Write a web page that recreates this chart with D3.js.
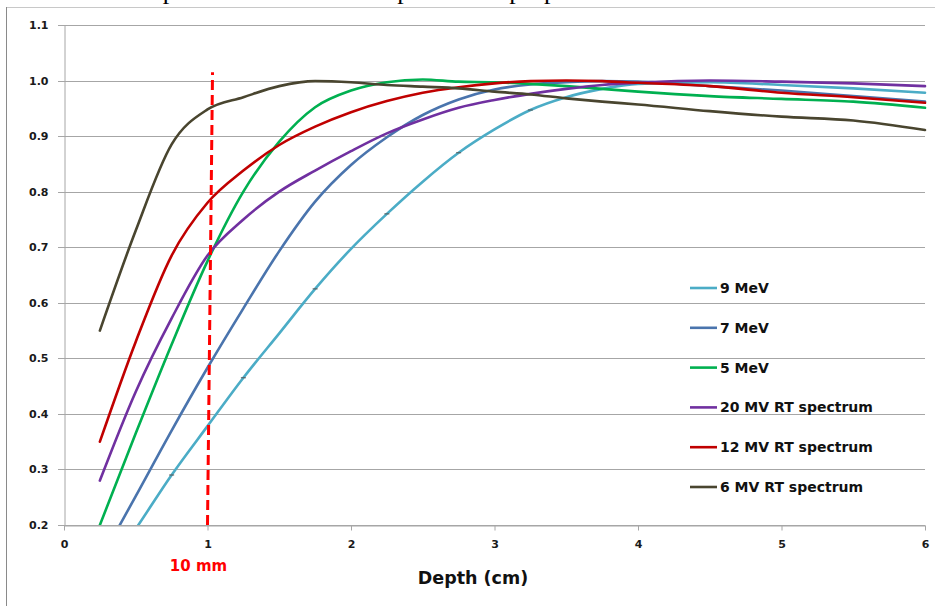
<!DOCTYPE html>
<html>
<head>
<meta charset="utf-8">
<script src="https://cdn.jsdelivr.net/npm/d3@7"></script>
<style>
  body { margin: 0; background: #fff; }
  svg { display: block; }
</style>
</head>
<body>
<div id="chart"></div>
<script>
const depths = [0.25, 0.5, 0.75, 1, 1.25, 1.5, 1.75, 2, 2.25, 2.5, 2.75, 3, 3.25, 3.5, 3.75, 4, 4.5, 5, 5.5, 6];

const mev9   = [0.10, 0.193, 0.29, 0.378, 0.465, 0.545, 0.625, 0.697, 0.76, 0.818, 0.87, 0.912, 0.947, 0.97, 0.985, 0.994, 0.997, 0.992, 0.986, 0.978];
const mev7   = [0.135, 0.252, 0.37, 0.483, 0.59, 0.693, 0.782, 0.848, 0.898, 0.938, 0.966, 0.984, 0.993, 0.997, 0.999, 0.998, 0.99, 0.982, 0.972, 0.962];
const mev5   = [0.2, 0.365, 0.525, 0.675, 0.8, 0.89, 0.952, 0.982, 0.997, 1.002, 0.998, 0.997, 0.994, 0.99, 0.985, 0.98, 0.972, 0.967, 0.962, 0.951];
const mv20   = [0.28, 0.44, 0.572, 0.685, 0.75, 0.8, 0.838, 0.873, 0.905, 0.93, 0.951, 0.965, 0.976, 0.985, 0.992, 0.996, 1.0, 0.998, 0.995, 0.99];
const mv12   = [0.35, 0.53, 0.685, 0.78, 0.838, 0.884, 0.917, 0.943, 0.963, 0.978, 0.988, 0.995, 0.999, 1.0, 0.999, 0.996, 0.99, 0.978, 0.97, 0.96];
const mv6    = [0.55, 0.73, 0.885, 0.948, 0.97, 0.99, 0.999, 0.997, 0.992, 0.989, 0.986, 0.98, 0.975, 0.968, 0.962, 0.957, 0.945, 0.935, 0.928, 0.911];

const seriesNames  = ["9 MeV", "7 MeV", "5 MeV", "20 MV RT spectrum", "12 MV RT spectrum", "6 MV RT spectrum"];
const seriesValues = [mev9, mev7, mev5, mv20, mv12, mv6];
const seriesColors = ["#4bacc6", "#4a74ad", "#00b050", "#7030a0", "#c00000", "#49452f"];

const xTicks = [0, 1, 2, 3, 4, 5, 6];
const yTicks = [0.2, 0.3, 0.4, 0.5, 0.6, 0.7, 0.8, 0.9, 1.0, 1.1];

// the 10 mm marker line (slightly slanted in the original)
const refLineX = [1.0, 1.035];
const refLineY = [0.2, 1.015];
const refLabel = "10 mm";

const width = 935, height = 606;
const margin = {top: 25, right: 10, bottom: 81, left: 64};

const svg = d3.select("#chart").append("svg")
  .attr("width", width)
  .attr("height", height);

// page remnants: cut text line and frame
svg.append("text")
  .attr("x", 71).attr("y", -1)
  .attr("font-family", "Liberation Serif, serif")
  .attr("font-size", 26)
  .attr("fill", "#000")
  .text("ates comparable with radiation protection purposes.");

svg.append("line")
  .attr("x1", 6).attr("x2", width).attr("y1", 7.5).attr("y2", 7.5)
  .attr("stroke", "#c8c8c8");
svg.append("line")
  .attr("x1", 6.5).attr("x2", 6.5).attr("y1", 7).attr("y2", height)
  .attr("stroke", "#8a8a8a");

const x = d3.scaleLinear().domain([0, 6]).range([margin.left, width - margin.right]);
const y = d3.scaleLinear().domain([0.2, 1.1]).range([height - margin.bottom, margin.top]);

// gridlines
svg.append("g").selectAll("line")
  .data(yTicks)
  .join("line")
  .attr("x1", margin.left - 6)
  .attr("x2", x(6))
  .attr("y1", d => Math.round(y(d)) + 0.5)
  .attr("y2", d => Math.round(y(d)) + 0.5)
  .attr("stroke", "#a6a6a6");

const tickFont = "DejaVu Sans, Verdana, sans-serif";

const yAxis = svg.append("g")
  .attr("transform", `translate(${margin.left + 0.5},0)`)
  .call(d3.axisLeft(y).tickValues(yTicks).tickFormat(d3.format(".1f")).tickSize(0).tickPadding(16));
yAxis.select(".domain").attr("stroke", "#a6a6a6");
yAxis.selectAll("text")
  .attr("font-family", tickFont).attr("font-size", 11).attr("font-weight", "bold").attr("fill", "#1a1a1a");

const xAxis = svg.append("g")
  .attr("transform", `translate(0,${Math.round(y(0.2)) + 0.5})`)
  .call(d3.axisBottom(x).tickValues(xTicks).tickFormat(d3.format("d")).tickSize(5).tickSizeOuter(0).tickPadding(10));
xAxis.select(".domain").attr("stroke", "#a6a6a6");
xAxis.selectAll("line").attr("stroke", "#a6a6a6");
xAxis.selectAll("text")
  .attr("font-family", tickFont).attr("font-size", 11).attr("font-weight", "bold").attr("fill", "#1a1a1a");

svg.append("text")
  .attr("x", 473).attr("y", 584)
  .attr("text-anchor", "middle")
  .attr("font-family", tickFont).attr("font-size", 17.5).attr("font-weight", "bold")
  .attr("fill", "#111")
  .text("Depth (cm)");

// clip curves to plot area
svg.append("clipPath").attr("id", "plotClip")
  .append("rect")
  .attr("x", margin.left).attr("y", margin.top)
  .attr("width", x(6) - margin.left + 4)
  .attr("height", y(0.2) - margin.top);

const line = d3.line()
  .x(d => x(d[0]))
  .y(d => y(d[1]))
  .curve(d3.curveMonotoneX);

const curves = svg.append("g").attr("clip-path", "url(#plotClip)");
seriesValues.forEach((vals, i) => {
  curves.append("path")
    .datum(depths.map((d, j) => [d, vals[j]]))
    .attr("d", line)
    .attr("fill", "none")
    .attr("stroke", seriesColors[i])
    .attr("stroke-width", 2.6)
    .attr("stroke-linecap", "round");
});

// tiny dash markers visible on the 9 MeV curve
curves.append("g").selectAll("line")
  .data(depths.map((d, j) => [d, mev9[j]]).filter(d => d[0] >= 0.75 && d[0] <= 3.25 && (d[0] * 4) % 2 === 1))
  .join("line")
  .attr("x1", d => x(d[0]) - 2.5).attr("x2", d => x(d[0]) + 2.5)
  .attr("y1", d => y(d[1])).attr("y2", d => y(d[1]))
  .attr("stroke", "#555").attr("stroke-width", 1);

// 10 mm reference line
svg.append("path")
  .datum(refLineX.map((d, i) => [d, refLineY[i]]))
  .attr("d", d3.line().x(d => x(d[0])).y(d => y(d[1])))
  .attr("stroke", "#ff0000")
  .attr("stroke-width", 3)
  .attr("stroke-dasharray", "10,5")
  .attr("fill", "none");

svg.append("text")
  .attr("x", x(refLineX[0]) - 9).attr("y", 571)
  .attr("text-anchor", "middle")
  .attr("font-family", tickFont).attr("font-size", 15).attr("font-weight", "bold")
  .attr("fill", "#ff0000")
  .text(refLabel);

// legend
const legend = svg.append("g").attr("transform", "translate(690,288)");
const items = legend.selectAll("g")
  .data(seriesNames)
  .join("g")
  .attr("transform", (d, i) => `translate(0,${i * 39.8})`);
items.append("line")
  .attr("x1", 0).attr("x2", 27)
  .attr("stroke", (d, i) => seriesColors[i])
  .attr("stroke-width", 2.6);
items.append("text")
  .attr("x", 30).attr("y", 5)
  .attr("font-family", tickFont).attr("font-size", 14).attr("font-weight", "bold")
  .attr("fill", "#111")
  .text(d => d);
</script>
</body>
</html>
